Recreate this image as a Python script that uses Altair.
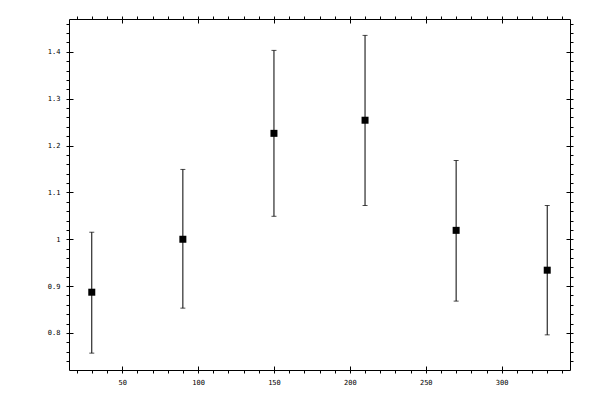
import altair as alt
import pandas as pd

angles = [30, 90, 150, 210, 270, 330]
values = [0.887, 1.000, 1.226, 1.254, 1.019, 0.934]
lower = [0.757, 0.853, 1.049, 1.072, 0.868, 0.796]
upper = [1.015, 1.149, 1.403, 1.435, 1.168, 1.072]

x_ticks = [20, 30, 40, 50, 60, 70, 80, 90, 100, 110, 120, 130, 140, 150, 160, 170,
           180, 190, 200, 210, 220, 230, 240, 250, 260, 270, 280, 290, 300, 310,
           320, 330, 340]
y_ticks = [0.74, 0.76, 0.78, 0.80, 0.82, 0.84, 0.86, 0.88, 0.90, 0.92, 0.94, 0.96,
           0.98, 1.00, 1.02, 1.04, 1.06, 1.08, 1.10, 1.12, 1.14, 1.16, 1.18, 1.20,
           1.22, 1.24, 1.26, 1.28, 1.30, 1.32, 1.34, 1.36, 1.38, 1.40, 1.42, 1.44,
           1.46]

df = pd.DataFrame({"x": angles, "y": values, "lo": lower, "hi": upper})

W, H = 501, 351
FONT = "DejaVu Sans Mono"

xs = alt.Scale(domain=[15, 345], nice=False, zero=False)
ys = alt.Scale(domain=[0.721, 1.47], nice=False, zero=False)

x_major = "datum.value % 50 === 0"
y_major = "round(datum.value * 100) % 10 === 0"

axis_common = dict(domainColor="black", domainWidth=1, tickColor="black",
                   tickWidth=1, tickSize=3, labelFont=FONT, labelFontSize=7,
                   labelColor="black", title=None)

x_bottom = alt.Axis(orient="bottom", values=x_ticks, labelExpr=f"{x_major} ? datum.label : ''",
                    labelPadding=5, grid=True, gridColor="black", gridWidth=1,
                    gridDash=[4, H - 8, 4, 2000],
                    gridOpacity={"condition": {"test": x_major, "value": 1}, "value": 0},
                    format="d", labelFlush=False, labelOverlap=False, **axis_common)
y_left = alt.Axis(orient="left", values=y_ticks, labelExpr=f"{y_major} ? datum.label : ''",
                  labelPadding=6, grid=True, gridColor="black", gridWidth=1,
                  gridDash=[4, W - 8, 4, 2000],
                  gridOpacity={"condition": {"test": y_major, "value": 1}, "value": 0},
                  format="~g", labelFlush=False, labelOverlap=False, **axis_common)
x_top = alt.Axis(orient="top", values=x_ticks, labels=False, grid=False, **axis_common)
y_right = alt.Axis(orient="right", values=y_ticks, labels=False, grid=False, **axis_common)

base = alt.Chart(df)

bars = base.mark_rule(color="black", strokeWidth=1).encode(
    x=alt.X("x:Q", scale=xs, axis=x_top),
    y=alt.Y("lo:Q", scale=ys, axis=y_right),
    y2="hi:Q",
)
cap_lo = base.mark_tick(color="black", orient="horizontal", size=5, thickness=1).encode(
    x=alt.X("x:Q", scale=xs, axis=None),
    y=alt.Y("lo:Q", scale=ys, axis=None),
)
cap_hi = base.mark_tick(color="black", orient="horizontal", size=5, thickness=1).encode(
    x=alt.X("x:Q", scale=xs, axis=None),
    y=alt.Y("hi:Q", scale=ys, axis=None),
)
points = base.mark_square(color="black", size=49, opacity=1, filled=True).encode(
    x=alt.X("x:Q", scale=xs, axis=x_bottom),
    y=alt.Y("y:Q", scale=ys, axis=y_left),
)

chart = alt.layer(bars, cap_lo, cap_hi, points).resolve_axis(
    x="independent", y="independent"
).properties(
    width=W, height=H,
    autosize=alt.AutoSizeParams(type="none"),
    padding={"left": 61, "top": 11, "right": 20, "bottom": 22},
    background="white",
).configure_view(stroke=None)

chart.save("out.html", embed_options={"renderer": "svg", "actions": False})
